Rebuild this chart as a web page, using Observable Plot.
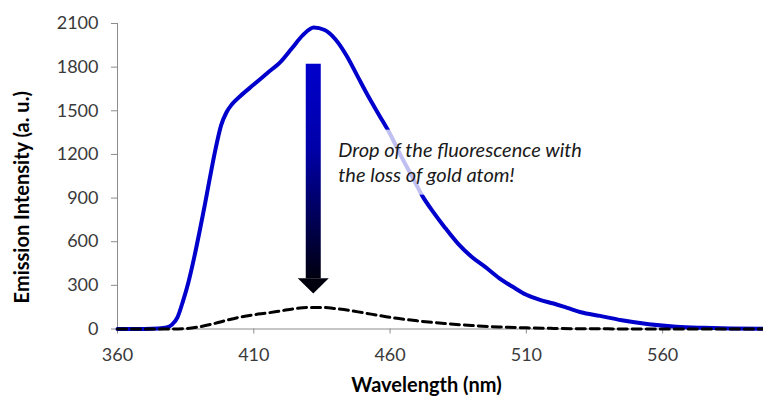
<!DOCTYPE html>
<html><head><meta charset="utf-8">
<script src="https://cdn.jsdelivr.net/npm/d3@7"></script>
<script src="https://cdn.jsdelivr.net/npm/@observablehq/plot@0.6"></script>
<style>body{margin:0;background:#fff} svg{display:block}</style>
</head><body><div id="chart"></div>
<script>
// Blue curve: cluster with the full gold count
const wlGold = [360,370,375,378,380,382,384,386,388,390,392,394,396,398,400,402,405,410,415,420,424,428,432,436,440,444,448,452,456,460,464,468,472,476,480,485,490,495,500,505,510,515,520,525,530,537,545,555,565,575,585,597];
const intensityGold = [0,0,3,10,30,80,190,320,480,660,850,1050,1240,1400,1490,1545,1600,1680,1760,1840,1930,2020,2072,2055,1990,1880,1740,1600,1470,1340,1190,1050,910,800,700,585,495,425,350,290,235,200,175,145,115,90,60,33,16,8,3,1];
// Dashed curve: after the loss of a gold atom
const wlLoss = [360,375,380,385,390,395,400,405,410,415,420,425,430,435,440,445,450,455,460,470,480,490,500,510,520,540,560,597];
const intensityLoss = [0,0,0,3,15,35,60,82,98,110,125,140,148,148,140,128,112,96,80,56,38,24,14,8,4,1,0,0];

const xTicks = [360,410,460,510,560];
const yTicks = [0,300,600,900,1200,1500,1800,2100];
const xDomain = [360,597];
const yDomain = [0,2100];

const arrowX = [432];
const arrowTop = [1820];
const arrowNeck = [345];
const arrowTip = [240];

const noteText = ["Drop of the fluorescence with\nthe loss of gold atom!"];
const noteX = [441];
const noteY = [1305];

const xTitle = ["Wavelength (nm)"];
const yTitle = ["Emission Intensity (a. u.)"];

const gold = wlGold.map((w,i)=>({w, v: intensityGold[i]}));
const loss = wlLoss.map((w,i)=>({w, v: intensityLoss[i]}));

function noteBox(index, scales) {
  const x = scales.x(noteX[0]), y = scales.y(noteY[0]);
  const g = d3.create("svg:g");
  g.append("rect").attr("x", x - 4).attr("y", y - 9).attr("width", 258).attr("height", 65)
    .attr("fill", "white").attr("fill-opacity", 0.75);
  return g.node();
}

function arrowMark(index, scales) {
  const x = scales.x(arrowX[0]);
  const y0 = scales.y(arrowTop[0]), y1 = scales.y(arrowNeck[0]), y2 = scales.y(arrowTip[0]);
  const g = d3.create("svg:g");
  const grad = g.append("defs").append("linearGradient").attr("id", "arrowGrad")
    .attr("gradientUnits", "userSpaceOnUse").attr("x1", 0).attr("x2", 0).attr("y1", y0).attr("y2", y1);
  grad.append("stop").attr("offset", "0%").attr("stop-color", "#0000CC");
  grad.append("stop").attr("offset", "40%").attr("stop-color", "#0000a8");
  grad.append("stop").attr("offset", "100%").attr("stop-color", "#000010");
  g.append("rect").attr("x", x - 7.5).attr("width", 15).attr("y", y0).attr("height", y1 - y0)
    .attr("fill", "url(#arrowGrad)");
  g.append("path").attr("d", `M${x-15.5},${y1}L${x+15.5},${y1}L${x},${y2}Z`).attr("fill", "#00000c");
  return g.node();
}

const font = "Lato, 'Open Sans', sans-serif";
const plot = Plot.plot({
  width: 763, height: 404,
  marginLeft: 117, marginRight: 0, marginTop: 23, marginBottom: 75.5,
  style: {fontFamily: font, fontSize: "18px", color: "#3a3a3a", background: "white"},
  x: {domain: xDomain},
  y: {domain: yDomain},
  marks: [
    Plot.axisX({ticks: xTicks, tickSize: 5, tickPadding: 14, stroke: "#8c8c8c", fontSize: 18, label: null, tickFormat: d => String(d)}),
    Plot.axisY({ticks: yTicks, tickSize: 6, tickPadding: 13, stroke: "#8c8c8c", fontSize: 18, label: null, tickFormat: d => String(d)}),
    Plot.ruleY([0], {stroke: "#8c8c8c", strokeWidth: 1}),
    Plot.ruleX([xDomain[0]], {stroke: "#8c8c8c", strokeWidth: 1}),
    Plot.line(gold, {x: "w", y: "v", stroke: "#0000CC", strokeWidth: 4, curve: "monotone-x"}),
    Plot.line(loss, {x: "w", y: "v", stroke: "#000000", strokeWidth: 3, strokeDasharray: "9,5", curve: "monotone-x"}),
    noteBox,
    Plot.text(noteText, {x: noteX, y: noteY, text: noteText, textAnchor: "start", lineAnchor: "top",
      fontStyle: "italic", fontSize: 20, lineHeight: 1.25, fill: "#1a1a1a", ariaLabel: "note"}),
    arrowMark,
    Plot.text(xTitle, {frameAnchor: "bottom", dx: -14, dy: 63, textAnchor: "middle", lineAnchor: "bottom", text: xTitle, fontWeight: "bold", fontSize: 20, fill: "#000", ariaLabel: "xtitle"}),
    Plot.text(yTitle, {frameAnchor: "left", dx: -95, dy: 21, rotate: -90, textAnchor: "middle", lineAnchor: "middle", text: yTitle, fontWeight: "bold", fontSize: 20, fill: "#000", ariaLabel: "ytitle"})
  ]
});
document.getElementById("chart").appendChild(plot);

// fit text sizes to the widths measured on the reference
function fit(label, target) {
  const t = plot.querySelector(`g[aria-label="${label}"] text`);
  if (!t) return;
  const fs = parseFloat(t.getAttribute("font-size") || t.parentNode.getAttribute("font-size") || 20);
  const w = t.getBBox().width;
  if (w > 0) t.setAttribute("font-size", (fs * target / w).toFixed(2));
}
fit("note", 249);
fit("xtitle", 174);
fit("ytitle", 246);
</script>
</body></html>
